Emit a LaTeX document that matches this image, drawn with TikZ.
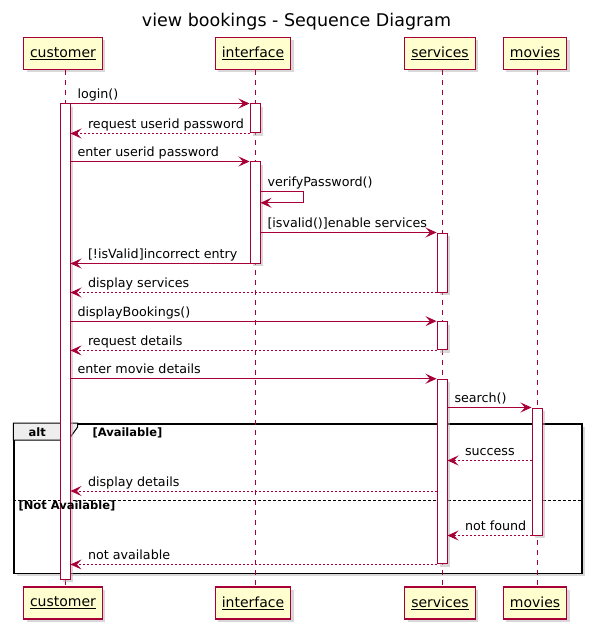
\documentclass[tikz,border=0pt]{standalone}
\usepackage{fontspec}
\setmainfont{DejaVu Sans}
\usetikzlibrary{arrows.meta,shadows}
\definecolor{umlred}{HTML}{A80036}
\definecolor{umlfill}{HTML}{FEFECE}
\definecolor{umltab}{HTML}{EEEEEE}
\tikzset{softshadow/.style={drop shadow={shadow xshift=3pt,shadow yshift=-3pt,fill=black!30}}}
\tikzset{part/.style={draw=umlred, fill=umlfill, line width=1.2pt, minimum height=32pt,
  inner xsep=6.5pt, font=\fontsize{14}{16}\selectfont, softshadow}}
\tikzset{actbar/.style={draw=umlred, fill=white, line width=1pt, minimum width=10pt,
  inner sep=0pt, softshadow}}
\tikzset{lifeline/.style={umlred, line width=1pt, dash pattern=on 5pt off 5pt}}
\tikzset{msg/.style={umlred, line width=1pt, -{Stealth[length=11pt,width=10pt,inset=4.5pt]}}}
\tikzset{reply/.style={msg, dash pattern=on 2pt off 2pt}}
\tikzset{lblr/.style={anchor=base west, inner sep=0pt, xshift=6.5pt, yshift=5pt,
  text=black, font=\fontsize{12.7}{15}\selectfont}}
\tikzset{lbll/.style={anchor=base west, inner sep=0pt, xshift=17pt, yshift=5pt,
  text=black, font=\fontsize{12.7}{15}\selectfont}}
\tikzset{grouptxt/.style={inner sep=0pt, font=\fontsize{11.5}{13}\selectfont\bfseries}}

\begin{document}
\begin{tikzpicture}[x=1pt, y=-1pt]
\useasboundingbox (0,0) rectangle (591,628);

\node[anchor=base, font=\fontsize{17.5}{20}\selectfont] (title) at (296.5,27) {view bookings - Sequence Diagram};

% participants
\node[part] (cust) at (63,53.5) {\underline{customer}};
\node[part] (intf) at (253,53.5) {\underline{interface}};
\node[part] (serv) at (440,53.5) {\underline{services}};
\node[part] (movi) at (535,53.5) {\underline{movies}};
\node[part] (custb) at (63,603) {\underline{customer}};
\node[part] (intfb) at (253,603) {\underline{interface}};
\node[part] (servb) at (440,603) {\underline{services}};
\node[part] (movib) at (535,603) {\underline{movies}};

% alt group
\node[draw=black, fill=white, line width=1.5pt, inner sep=0pt, anchor=north west, minimum width=567.7pt,
  minimum height=149.7pt, softshadow] (alt) at (13.3,423) {};
\draw[black, line width=1pt, fill=umltab] (alt.north west) -- ++(64.4,0) -- ++(0,4)
  -- ++(-9.4,13) -- ++(-55,0) -- cycle;
\coordinate (sepl) at ([yshift=-77pt]alt.north west);
\coordinate (sepr) at ([yshift=-77pt]alt.north east);
\draw[black, line width=1pt, dash pattern=on 3pt off 2pt] (sepl) -- (sepr);

% lifelines
\draw[lifeline] (65,0 |- cust.south) -- (65,0 |- custb.north);
\draw[lifeline] (255,0 |- intf.south) -- (255,0 |- intfb.north);
\draw[lifeline] (442,0 |- serv.south) -- (442,0 |- servb.north);
\draw[lifeline] (537,0 |- movi.south) -- (537,0 |- movib.north);

% activations
\node[actbar, minimum height=475pt] (cbar) at (65,341.5) {};
\node[actbar, minimum height=29pt] (ibar1) at (255,118.5) {};
\node[actbar, minimum height=101pt] (ibar2) at (255,212.5) {};
\node[actbar, minimum height=59pt] (sbar1) at (442,262.5) {};
\node[actbar, minimum height=28.3pt] (sbar2) at (442,335.8) {};
\node[actbar, minimum height=184.7pt] (sbar3) at (442,471.6) {};
\node[actbar, minimum height=127pt] (mbar) at (537,471.5) {};
\coordinate (selfout) at ([yshift=-29.7pt]ibar2.north east);
\coordinate (selfin) at ([yshift=-41.3pt]ibar2.north east);
\coordinate (succ) at ([yshift=-53pt]mbar.north west);
\coordinate (dets) at ([yshift=-68pt]alt.north);

% messages
\draw[msg] (cbar.north east) -- (ibar1.north west) node[lblr, pos=0] (m1) {login()};
\draw[reply] (ibar1.south west) -- (cbar.east |- ibar1.south) node[lbll, pos=1] (m2) {request userid password};
\draw[msg] (cbar.east |- ibar2.north) -- (ibar2.north west) node[lblr, pos=0] (m3) {enter userid password};
\draw[msg] (selfout) node[lblr] (m4) {verifyPassword()} -- ++(43,0) -- ++(0,11.6) -- (selfin);
\draw[msg] (ibar2.east |- sbar1.north) -- (sbar1.north west) node[lblr, pos=0] (m5) {[isvalid()]enable services};
\draw[msg] (ibar2.south west) -- (cbar.east |- ibar2.south) node[lbll, pos=1] (m6) {[!isValid]incorrect entry};
\draw[reply] (sbar1.south west) -- (cbar.east |- sbar1.south) node[lbll, pos=1] (m7) {display services};
\draw[msg] (cbar.east |- sbar2.north) -- (sbar2.north west) node[lblr, pos=0] (m8) {displayBookings()};
\draw[reply] (sbar2.south west) -- (cbar.east |- sbar2.south) node[lbll, pos=1] (m9) {request details};
\draw[msg] (cbar.east |- sbar3.north) -- (sbar3.north west) node[lblr, pos=0] (m10) {enter movie details};
\draw[msg] (sbar3.east |- mbar.north) -- (mbar.north west) node[lblr, pos=0] (m11) {search()};
\draw[reply] (succ) -- (sbar3.east |- succ) node[lbll, pos=1] (m12) {success};
\draw[reply] (sbar3.west |- dets) -- (cbar.east |- dets) node[lbll, pos=1] (m13) {display details};
\draw[reply] (mbar.south west) -- (sbar3.east |- mbar.south) node[lbll, pos=1] (m14) {not found};
\draw[reply] (sbar3.south west) -- (cbar.east |- sbar3.south) node[lbll, pos=1] (m15) {not available};

% group texts
\node[grouptxt] (altname) at ([xshift=24pt,yshift=-9pt]alt.north west) {alt};
\node[grouptxt, anchor=base west] (guard1) at ([xshift=79pt,yshift=-13pt]alt.north west) {[Available]};
\node[grouptxt, anchor=base west] (guard2) at ([xshift=5pt,yshift=-86.3pt]alt.north west) {[Not Available]};

\end{tikzpicture}
\end{document}
